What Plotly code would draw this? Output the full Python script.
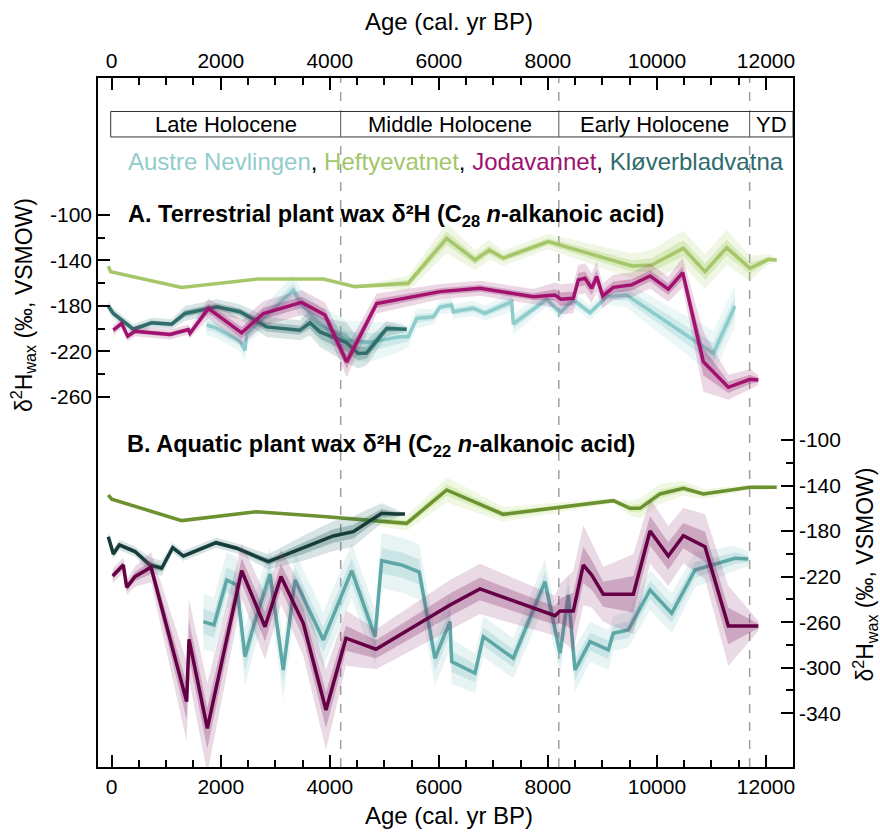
import numpy as np
import plotly.graph_objects as go

# ---------------- DATA ----------------
# Panel A: terrestrial (C28) -- left axis
heft_a_age = [-60, -20, 1283, 2658, 3881, 4462, 5440, 6144, 6663, 6925, 7182, 8007, 9537, 9904, 10484, 10881, 11279, 11706, 12043, 12196]
heft_a_val = [-145, -150, -163.7, -156.4, -156.4, -163, -160, -120.5, -139.6, -130.8, -138, -123.4, -144.8, -144, -129.3, -149.8, -128.7, -146.9, -139, -139.6]
heft_a_unc = [0, 0, 0, 0, 0, 0, 3, 6, 4, 4, 3, 3, 5, 6, 7, 7, 7, 5, 2, 1]

jod_a_age = [30, 183, 293, 428, 1070, 1406, 1437, 1773, 2384, 2781, 3484, 3912, 4310, 4860, 6021, 6754, 7732, 8130, 8234, 8466, 8558, 8681, 8803, 8895, 9005, 9200, 9537, 9873, 10208, 10472, 10850, 11309, 11706, 11859]
jod_a_val = [-201.3, -195.4, -206.6, -202.2, -205.1, -200.7, -204, -182.2, -203.6, -186.6, -176.9, -188, -229.2, -177.8, -167.4, -164.5, -171.8, -170.3, -174.1, -173.3, -157.1, -155.7, -164.5, -154.2, -171.2, -163.6, -161.5, -153.6, -165.3, -150.7, -229, -251.5, -244.5, -245]
jod_a_unc = [2, 2, 2, 2, 2, 2, 2, 4, 5, 5, 5, 5, 6, 4, 3, 3, 3, 5, 6, 6, 6, 6, 6, 6, 5, 5, 5, 5, 5, 6, 12, 5, 4, 2]

aus_a_age = [1742, 1900, 2353, 2445, 2475, 3331, 3484, 3800, 4300, 4700, 5288, 5440, 5593, 5899, 6021, 6235, 6265, 6632, 6846, 7336, 7366, 7978, 8222, 8466, 8772, 9078, 9445, 10300, 11034, 11431]
aus_a_val = [-196.9, -199, -211, -218.9, -205, -166, -179, -195, -210, -212, -207, -207, -191, -189.5, -181, -179.1, -185, -182, -186.4, -176.2, -195.8, -174.1, -185.9, -174.7, -185.9, -171.8, -170.3, -198, -221.6, -180]
aus_a_unc = [4, 4, 4, 4, 4, 6, 6, 7, 8, 8, 6, 4, 4, 3, 3, 3, 3, 3, 3, 4, 4, 3, 3, 3, 3, 3, 5, 7, 9, 8]

klo_a_age = [-60, 30, 397, 733, 1100, 1345, 1926, 2353, 2842, 3453, 3637, 3820, 4300, 4523, 4676, 5043, 5410]
klo_a_val = [-180.2, -186.6, -200.4, -194.8, -196, -186.6, -180.7, -185.1, -198.4, -201.3, -194.8, -202.8, -212, -221.8, -221.3, -199.8, -200.4]
klo_a_unc = [2, 2, 2, 2, 2, 3, 3, 3, 4, 4, 5, 6, 8, 6, 5, 3, 1]

# Panel B: aquatic (C22) -- right axis
heft_b_age = [-62, 0, 1284, 2659, 3881, 5410, 6144, 7182, 9200, 9506, 9689, 10056, 10484, 10850, 11706, 12073, 12196]
heft_b_val = [-148.3, -152, -170.8, -163, -167.3, -173.2, -143.9, -165.3, -153.3, -160, -160, -147.4, -142.4, -147.4, -141.6, -141.6, -141.6]
heft_b_unc = [0, 0, 0, 0, 0, 3, 5, 3, 1, 3, 4, 4, 3, 2, 1, 1, 0]

klo_b_age = [-62, 30, 140, 427, 702, 917, 1119, 1314, 1913, 2293, 2873, 3514, 4064, 4431, 4706, 4951, 5196, 5379]
klo_b_val = [-184.9, -200.1, -192.2, -198, -209.8, -212.7, -194.6, -201.9, -190.2, -195.1, -206.9, -195.1, -184.3, -180.5, -171.7, -164.4, -165, -165]
klo_b_unc = [2, 2, 2, 2, 3, 3, 2, 2, 2, 2, 3, 5, 6, 6, 5, 4, 2, 0]

jod_b_age = [18, 213, 275, 427, 721, 1375, 1418, 1754, 2384, 2812, 3105, 3514, 3930, 4297, 4847, 6204, 6754, 8130, 8222, 8466, 8649, 8803, 9016, 9567, 9873, 10208, 10484, 10881, 11309, 11706, 11859]
jod_b_val = [-219.4, -209.8, -229.4, -220, -211.8, -329.8, -275, -353.2, -214.8, -264, -220, -261, -337.1, -274.1, -283.8, -244.9, -230.8, -254.3, -250.2, -250.2, -209.8, -218.5, -235.5, -235.5, -179.9, -201.9, -184, -193.7, -263.3, -263.3, -263.3]
jod_b_unc = [3, 3, 3, 4, 6, 16, 16, 18, 11, 13, 11, 13, 16, 11, 8, 10, 10, 8, 11, 16, 16, 13, 11, 16, 13, 12, 11, 13, 16, 6, 2]

aus_b_age = [1681, 1876, 2109, 2292, 2445, 2597, 2903, 3147, 3362, 3881, 4402, 4829, 4951, 5318, 5640, 5929, 6204, 6235, 6663, 6815, 7366, 7947, 8222, 8375, 8497, 8772, 9108, 9200, 9475, 9873, 10270, 10698, 11431, 11675]
aus_b_val = [-259.5, -262.5, -222.9, -227.3, -290.3, -264, -217.7, -302, -222.9, -275.6, -214.8, -272.7, -206, -209.8, -216, -291.7, -259.5, -294.6, -304.9, -272.7, -291.7, -224.4, -287.3, -236.1, -302, -277.1, -284.4, -269.7, -266.8, -231.7, -252.2, -214.2, -203.9, -204.6]
aus_b_unc = [11, 11, 11, 11, 12, 11, 11, 12, 11, 11, 11, 11, 11, 11, 11, 11, 11, 9, 8, 8, 8, 9, 9, 9, 9, 8, 8, 7, 7, 8, 8, 7, 5, 3]

period_names = ["Late Holocene", "Middle Holocene", "Early Holocene", "YD"]
period_bounds = [0, 4200, 8200, 11700, 12495]
x_ticks = [0, 2000, 4000, 6000, 8000, 10000, 12000]
ya_ticks = [-100, -140, -180, -220, -260]
yb_ticks = [-100, -140, -180, -220, -260, -300, -340]

# ---------------- STYLE ----------------
FONT = "Liberation Sans, Arial, sans-serif"
C = {
    "aus_a": "#8ccccc", "heft_a": "#a6c66a", "jod_a": "#a3116f", "klo_a": "#2f6e6a",
    "aus_b": "#5ea7a7", "heft_b": "#6b9130", "jod_b": "#660046", "klo_b": "#163d3a",
}
BAND = {
    "aus_a": (143, 204, 204), "heft_a": (166, 206, 100), "jod_a": (150, 40, 110), "klo_a": (47, 110, 106),
    "aus_b": (130, 195, 195), "heft_b": (170, 215, 100), "jod_b": (140, 50, 110), "klo_b": (40, 100, 100),
}

fig = go.Figure()


def add_series(age, val, unc, key, yaxis):
    a = np.array(age, float)
    v = np.array(val, float)
    u = np.array(unc, float)
    r, g, b = BAND[key]
    for k, op in ((2.2, 0.18), (1.0, 0.30)):
        lo = v - k * u
        hi = v + k * u
        fig.add_trace(go.Scatter(
            x=np.concatenate([a, a[::-1]]), y=np.concatenate([hi, lo[::-1]]),
            fill="toself", fillcolor=f"rgba({r},{g},{b},{op})", line=dict(width=0),
            mode="lines", hoverinfo="skip", yaxis=yaxis, showlegend=False))
    fig.add_trace(go.Scatter(x=a, y=v, mode="lines", yaxis=yaxis, showlegend=False,
                             line=dict(color=C[key], width=3.5)))


# panel A
add_series(aus_a_age, aus_a_val, aus_a_unc, "aus_a", "y")
add_series(heft_a_age, heft_a_val, heft_a_unc, "heft_a", "y")
add_series(klo_a_age, klo_a_val, klo_a_unc, "klo_a", "y")
add_series(jod_a_age, jod_a_val, jod_a_unc, "jod_a", "y")
# panel B
add_series(aus_b_age, aus_b_val, aus_b_unc, "aus_b", "y2")
add_series(heft_b_age, heft_b_val, heft_b_unc, "heft_b", "y2")
add_series(klo_b_age, klo_b_val, klo_b_unc, "klo_b", "y2")
add_series(jod_b_age, jod_b_val, jod_b_unc, "jod_b", "y2")

# invisible trace to activate top axis
fig.add_trace(go.Scatter(x=[0], y=[0], xaxis="x2", yaxis="y", mode="markers",
                         marker=dict(opacity=0), hoverinfo="skip", showlegend=False))

XR = [-251, 12495]
tickfont = dict(family=FONT, size=21, color="black")
axcommon = dict(showline=True, linecolor="black", linewidth=1.5, showgrid=False, zeroline=False,
                ticks="inside", ticklen=12, tickwidth=1.5, tickcolor="black", tickfont=tickfont)

fig.update_layout(
    width=880, height=832,
    margin=dict(l=98, r=87, t=78, b=65),
    plot_bgcolor="white", paper_bgcolor="white",
    showlegend=False,
    font=dict(family=FONT, color="black"),
    xaxis=dict(range=XR, tickvals=x_ticks, ticktext=[str(t) for t in x_ticks],
               minor=dict(tickvals=list(range(500, 12500, 500)), ticks="inside", ticklen=7,
                          tickwidth=1.5, tickcolor="black"), **axcommon),
    xaxis2=dict(range=XR, overlaying="x", side="top", anchor="y", tickvals=x_ticks,
                ticktext=[str(t) for t in x_ticks],
                minor=dict(tickvals=list(range(500, 12500, 500)), ticks="inside", ticklen=7,
                           tickwidth=1.5, tickcolor="black"), **axcommon),
    yaxis=dict(range=[-585.3, 20.4], tickvals=ya_ticks, ticktext=[f"-{abs(t)}" for t in ya_ticks],
               minor=dict(tickvals=[-120, -160, -200, -240], ticks="inside", ticklen=7,
                          tickwidth=1.5, tickcolor="black"), **axcommon),
    yaxis2=dict(range=[-387.2, 217.9], overlaying="y", side="right", anchor="x",
                tickvals=yb_ticks, ticktext=[f"-{abs(t)}" for t in yb_ticks],
                minor=dict(tickvals=[-120, -160, -200, -240, -280, -320], ticks="inside", ticklen=7,
                           tickwidth=1.5, tickcolor="black"), **axcommon),
)

shapes = []
# dashed boundaries
for xb in period_bounds[1:4]:
    shapes.append(dict(type="line", xref="x", yref="paper", x0=xb, x1=xb, y0=0, y1=1,
                       line=dict(color="#a0a0a0", width=1.5, dash="dash"), layer="below"))
# period box
BY0, BY1 = 0.9144, 0.9514
shapes.append(dict(type="rect", xref="x", yref="paper", x0=-18, x1=XR[1], y0=BY0, y1=BY1,
                   line=dict(color="#333333", width=1), fillcolor="white", layer="above"))
for xb in period_bounds[1:4]:
    shapes.append(dict(type="line", xref="x", yref="paper", x0=xb, x1=xb, y0=BY0, y1=BY1,
                       line=dict(color="#555555", width=1), layer="above"))
fig.update_layout(shapes=shapes)

ann = []
centers = [2091, 6199, 9953, 12104]
for name, cx in zip(period_names, centers):
    ann.append(dict(x=cx, y=(BY0 + BY1) / 2, xref="x", yref="paper", text=name, showarrow=False,
                    font=dict(family=FONT, size=22, color="black"), xanchor="center", yanchor="middle"))

ann.append(dict(x=0.0399, y=0.8795, xref="paper", yref="paper", xanchor="left", yanchor="middle",
                showarrow=False, font=dict(family=FONT, size=24, color="black"),
                text=("<span style='color:#93cccc'>Austre Nevlingen</span>, "
                      "<span style='color:#a3c66a'>Heftyevatnet</span>, "
                      "<span style='color:#a0106e'>Jodavannet</span>, "
                      "<span style='color:#2e6b6b'>Kløverbladvatna</span>")))
ann.append(dict(x=0.0403, y=0.8001, xref="paper", yref="paper", xanchor="left", yanchor="middle",
                showarrow=False, font=dict(family=FONT, size=23.5, color="black"),
                text="<b>A. Terrestrial plant wax δ²H (C<sub>28</sub> <i>n</i>-alkanoic acid)</b>"))
ann.append(dict(x=0.0388, y=0.4673, xref="paper", yref="paper", xanchor="left", yanchor="middle",
                showarrow=False, font=dict(family=FONT, size=23.5, color="black"),
                text="<b>B. Aquatic plant wax δ²H (C<sub>22</sub> <i>n</i>-alkanoic acid)</b>"))
# axis titles
ann.append(dict(x=0.505, y=1.0813, xref="paper", yref="paper", text="Age (cal. yr BP)", showarrow=False,
                font=dict(family=FONT, size=24, color="black"), xanchor="center", yanchor="middle"))
ann.append(dict(x=0.505, y=-0.0697, xref="paper", yref="paper", text="Age (cal. yr BP)", showarrow=False,
                font=dict(family=FONT, size=24, color="black"), xanchor="center", yanchor="middle"))
ytitle = "δ<sup>2</sup>H<sub>wax</sub> (‰, VSMOW)"
ann.append(dict(x=-0.108, y=0.6705, xref="paper", yref="paper", text=ytitle, showarrow=False, textangle=-90,
                font=dict(family=FONT, size=23, color="black"), xanchor="center", yanchor="middle"))
ann.append(dict(x=1.103, y=0.2787, xref="paper", yref="paper", text=ytitle, showarrow=False, textangle=-90,
                font=dict(family=FONT, size=23, color="black"), xanchor="center", yanchor="middle"))
fig.update_layout(annotations=ann)

fig.write_html("out.html")
